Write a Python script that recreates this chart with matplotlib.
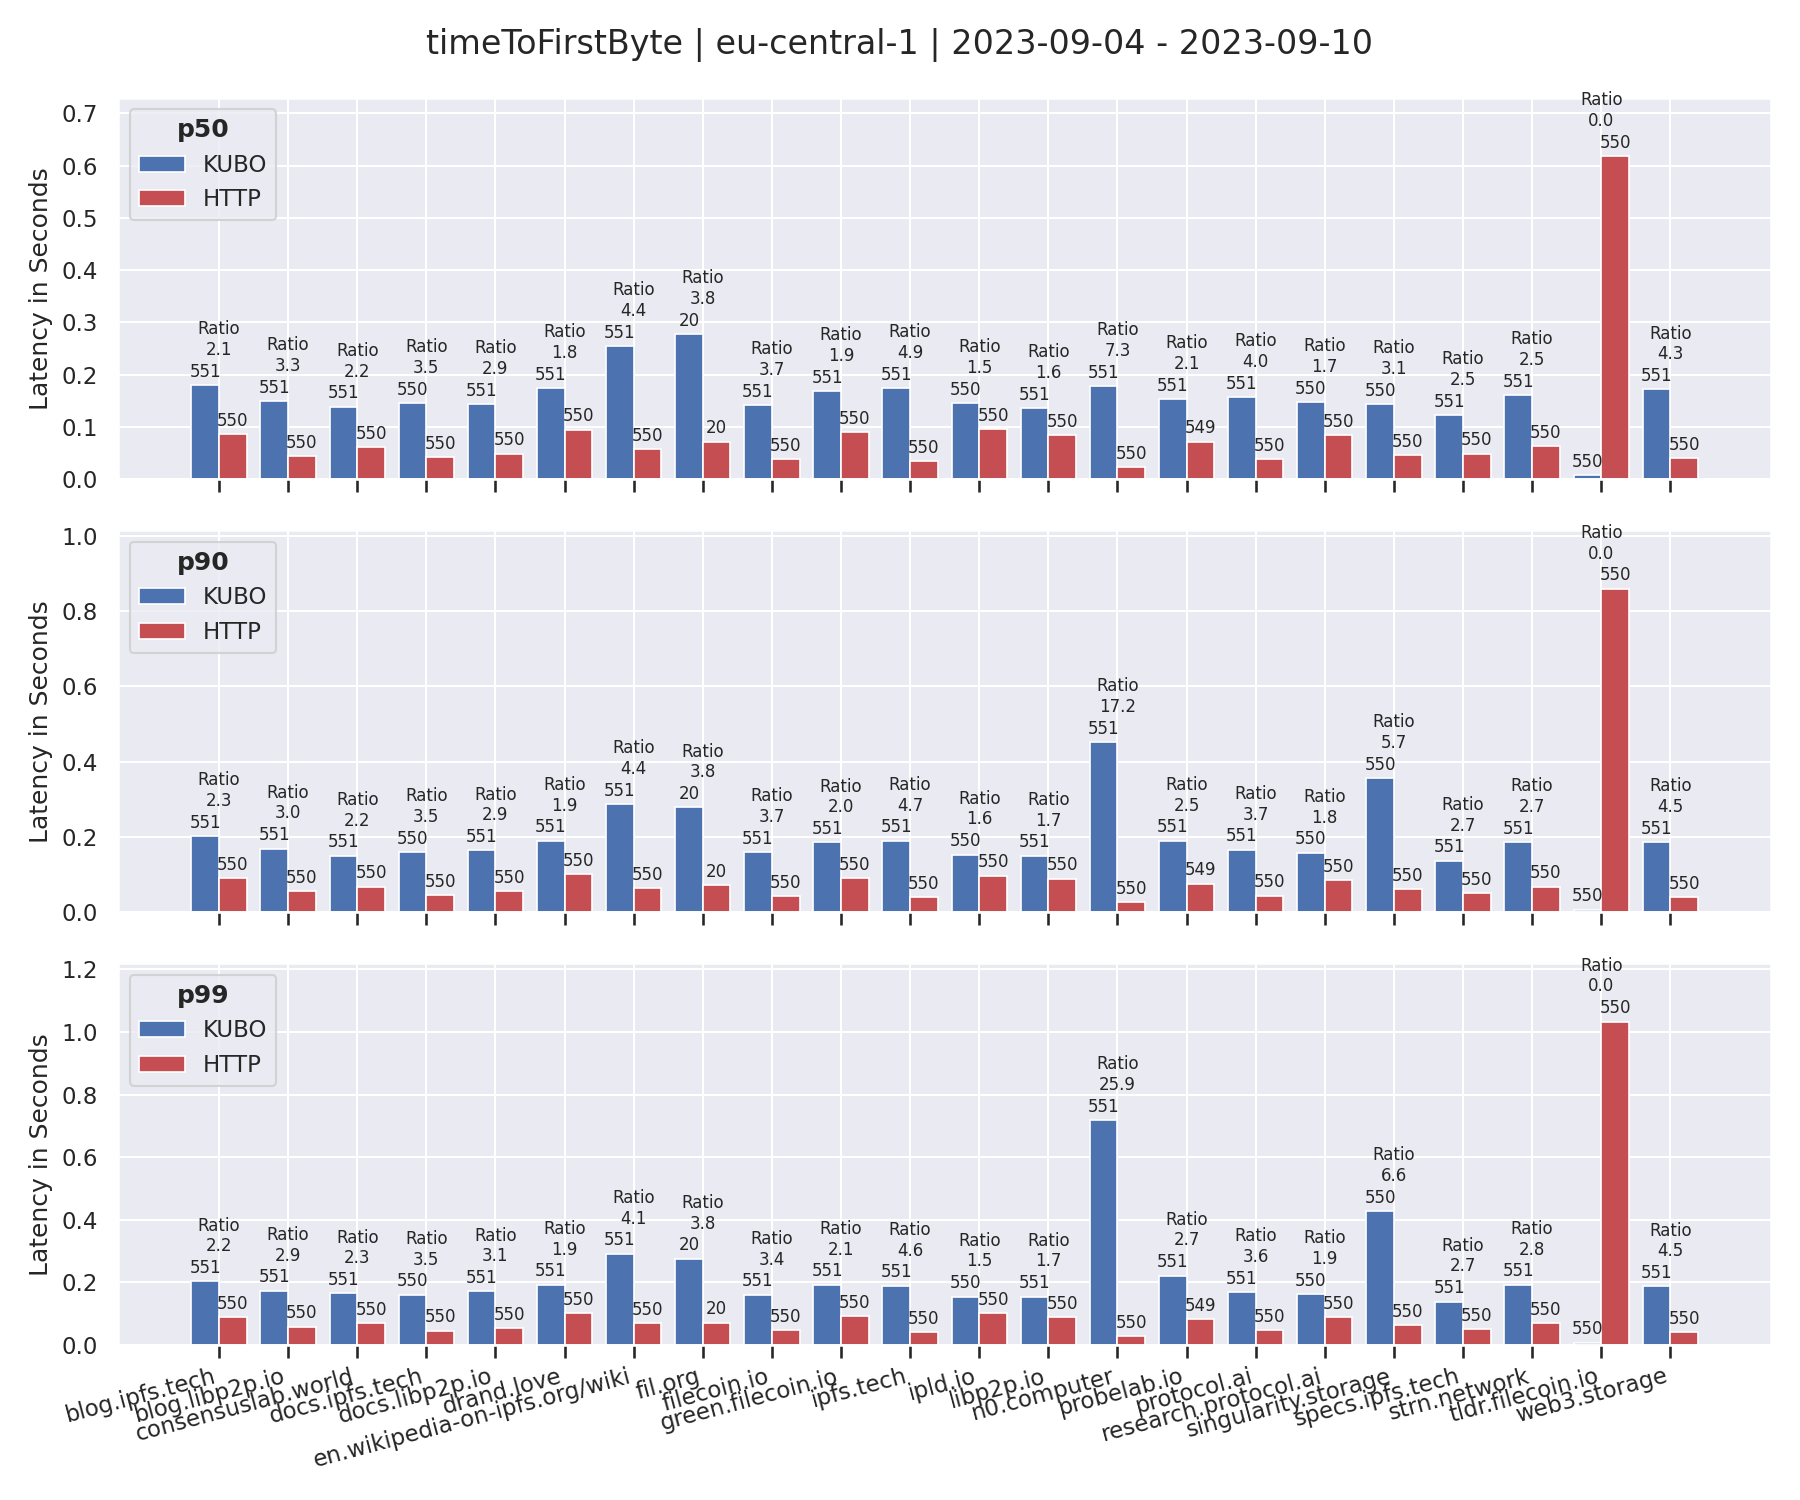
import numpy as np
import matplotlib
matplotlib.use("Agg")
import matplotlib.pyplot as plt
import seaborn as sns

sns.set_theme(style="darkgrid")

sites = ["blog.ipfs.tech", "blog.libp2p.io", "consensuslab.world", "docs.ipfs.tech",
         "docs.libp2p.io", "drand.love", "en.wikipedia-on-ipfs.org/wiki", "fil.org",
         "filecoin.io", "green.filecoin.io", "ipfs.tech", "ipld.io", "libp2p.io",
         "n0.computer", "probelab.io", "protocol.ai", "research.protocol.ai",
         "singularity.storage", "specs.ipfs.tech", "strn.network", "tldr.filecoin.io",
         "web3.storage"]

kubo_counts = [551, 551, 551, 550, 551, 551, 551, 20, 551, 551, 551,
               550, 551, 551, 551, 551, 550, 550, 551, 551, 550, 551]
http_counts = [550, 550, 550, 550, 550, 550, 550, 20, 550, 550, 550,
               550, 550, 550, 549, 550, 550, 550, 550, 550, 550, 550]

# latency in seconds per percentile
p50_kubo = [0.180, 0.150, 0.139, 0.146, 0.144, 0.174, 0.255, 0.278, 0.142, 0.169, 0.174,
            0.146, 0.136, 0.178, 0.153, 0.157, 0.148, 0.144, 0.123, 0.161, 0.008, 0.172]
p50_http = [0.087, 0.044, 0.061, 0.042, 0.049, 0.095, 0.057, 0.072, 0.038, 0.090, 0.035,
            0.096, 0.084, 0.024, 0.072, 0.039, 0.085, 0.046, 0.049, 0.063, 0.619, 0.040]
p50_ratio = [2.1, 3.3, 2.2, 3.5, 2.9, 1.8, 4.4, 3.8, 3.7, 1.9, 4.9,
             1.5, 1.6, 7.3, 2.1, 4.0, 1.7, 3.1, 2.5, 2.5, 0.0, 4.3]

p90_kubo = [0.203, 0.169, 0.150, 0.159, 0.164, 0.190, 0.288, 0.278, 0.159, 0.185, 0.190,
            0.153, 0.150, 0.451, 0.190, 0.166, 0.158, 0.356, 0.137, 0.187, 0.007, 0.187]
p90_http = [0.090, 0.055, 0.068, 0.045, 0.056, 0.100, 0.065, 0.072, 0.043, 0.090, 0.040,
            0.097, 0.089, 0.026, 0.076, 0.044, 0.086, 0.062, 0.050, 0.068, 0.859, 0.041]
p90_ratio = [2.3, 3.0, 2.2, 3.5, 2.9, 1.9, 4.4, 3.8, 3.7, 2.0, 4.7,
             1.6, 1.7, 17.2, 2.5, 3.7, 1.8, 5.7, 2.7, 2.7, 0.0, 4.5]

p99_kubo = [0.203, 0.174, 0.165, 0.161, 0.171, 0.193, 0.292, 0.276, 0.161, 0.193, 0.190,
            0.155, 0.155, 0.718, 0.222, 0.169, 0.164, 0.428, 0.139, 0.193, 0.008, 0.187]
p99_http = [0.090, 0.059, 0.070, 0.046, 0.055, 0.101, 0.071, 0.072, 0.047, 0.092, 0.041,
            0.101, 0.090, 0.028, 0.082, 0.047, 0.088, 0.065, 0.051, 0.069, 1.033, 0.041]
p99_ratio = [2.2, 2.9, 2.3, 3.5, 3.1, 1.9, 4.1, 3.8, 3.4, 2.1, 4.6,
             1.5, 1.7, 25.9, 2.7, 3.6, 1.9, 6.6, 2.7, 2.8, 0.0, 4.5]

panels = [("p50", p50_kubo, p50_http, p50_ratio),
          ("p90", p90_kubo, p90_http, p90_ratio),
          ("p99", p99_kubo, p99_http, p99_ratio)]

x = np.arange(len(sites))
width = 0.4

fig, axes = plt.subplots(3, 1, figsize=(12, 10), dpi=150, sharex=True)
fig.subplots_adjust(left=0.0656, right=0.984, top=0.935, bottom=0.1033, hspace=0.134)

for ax, (name, kubo, http, ratio) in zip(axes, panels):
    b1 = ax.bar(x - width / 2, kubo, width, color="#4C72B0", edgecolor="white",
                linewidth=0.8, label="KUBO")
    b2 = ax.bar(x + width / 2, http, width, color="#C44E52", edgecolor="white",
                linewidth=0.8, label="HTTP")
    ax.bar_label(b1, labels=[str(c) for c in kubo_counts], padding=2, fontsize=8)
    ax.bar_label(b2, labels=[str(c) for c in http_counts], padding=2, fontsize=8)
    for i in range(len(sites)):
        top = max(kubo[i], http[i])
        ax.annotate(f"Ratio\n{ratio[i]:.1f}", xy=(x[i], top), xytext=(0, 12.5),
                    textcoords="offset points", ha="center", va="bottom", fontsize=8)
    ax.set_ylim(0, max(max(kubo), max(http)) * 1.18)
    ax.set_xlim(-1.46, len(sites) - 1 + 1.46)
    ax.set_ylabel("Latency in Seconds")
    ax.set_xticks(x)
    ax.tick_params(axis="x", bottom=True, length=6, width=1.25, color=".15")
    ax.legend(loc="upper left", title=name,
              title_fontproperties={"weight": "bold", "size": 12})

axes[-1].set_xticklabels(sites, rotation=15, ha="right")

fig.suptitle("timeToFirstByte | eu-central-1 | 2023-09-04 - 2023-09-10",
             fontsize=16, y=0.97, va="center")

fig.savefig("out.png")
